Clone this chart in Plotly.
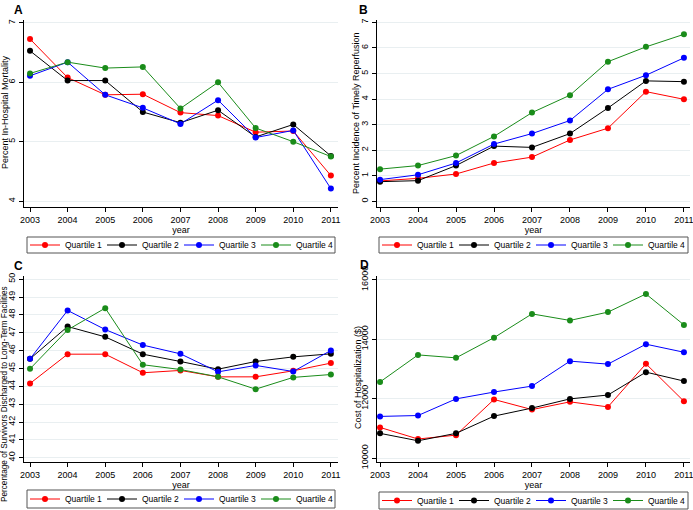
import plotly.graph_objects as go

years = [2003, 2004, 2005, 2006, 2007, 2008, 2009, 2010, 2011]
quartiles = ["Quartile 1", "Quartile 2", "Quartile 3", "Quartile 4"]
colors = ["#ff0000", "#000000", "#0000ff", "#1a8c1a"]

mortality_q1 = [6.73, 6.08, 5.79, 5.80, 5.49, 5.44, 5.16, 5.18, 4.43]
mortality_q2 = [6.53, 6.03, 6.03, 5.50, 5.32, 5.53, 5.08, 5.29, 4.76]
mortality_q3 = [6.11, 6.34, 5.79, 5.57, 5.30, 5.70, 5.07, 5.19, 4.21]
mortality_q4 = [6.15, 6.34, 6.24, 6.26, 5.56, 6.00, 5.23, 5.00, 4.75]

reperf_q1 = [0.80, 0.90, 1.07, 1.50, 1.73, 2.40, 2.86, 4.29, 3.99]
reperf_q2 = [0.77, 0.81, 1.40, 2.16, 2.11, 2.65, 3.65, 4.71, 4.68]
reperf_q3 = [0.85, 1.04, 1.50, 2.24, 2.65, 3.16, 4.38, 4.93, 5.61]
reperf_q4 = [1.26, 1.40, 1.79, 2.54, 3.47, 4.15, 5.46, 6.04, 6.53]

ltc_q1 = [44.16, 45.80, 45.80, 44.76, 44.89, 44.53, 44.53, 44.87, 45.30]
ltc_q2 = [45.54, 47.35, 46.77, 45.80, 45.39, 44.96, 45.39, 45.65, 45.82]
ltc_q3 = [45.54, 48.25, 47.18, 46.31, 45.82, 44.81, 45.17, 44.83, 46.01]
ltc_q4 = [44.98, 47.16, 48.38, 45.21, 44.94, 44.53, 43.84, 44.50, 44.66]

cost_q1 = [11030, 10640, 10770, 11970, 11630, 11890, 11720, 13170, 11910]
cost_q2 = [10830, 10580, 10830, 11410, 11680, 11990, 12120, 12890, 12590]
cost_q3 = [11400, 11430, 11990, 12220, 12420, 13260, 13160, 13830, 13560]
cost_q4 = [12560, 13470, 13370, 14050, 14850, 14630, 14910, 15520, 14480]

panels = [
    dict(letter="A", title="Percent In-Hospital Mortality",
         data=[mortality_q1, mortality_q2, mortality_q3, mortality_q4],
         yticks=[4, 5, 6, 7]),
    dict(letter="B", title="Percent Incidence of Timely Reperfusion",
         data=[reperf_q1, reperf_q2, reperf_q3, reperf_q4],
         yticks=[0, 1, 2, 3, 4, 5, 6, 7]),
    dict(letter="C", title="Percentage of Survivors Discharged to Long-Term Facilities",
         data=[ltc_q1, ltc_q2, ltc_q3, ltc_q4],
         yticks=list(range(40, 51))),
    dict(letter="D", title="Cost of Hospitalization ($)",
         data=[cost_q1, cost_q2, cost_q3, cost_q4],
         yticks=[10000, 12000, 14000, 16000]),
]

W, H = 693, 510
# pixel layout of plot areas: (left, right, top, bottom)
boxes = [(24, 338, 20, 207), (377, 690, 20, 207), (24, 338, 276, 462), (377, 690, 276, 462)]
xranges = [[2002.84, 2011.19], [2002.92, 2011.16], [2002.84, 2011.19], [2002.92, 2011.16]]
yranges = [[3.9, 7.05], [-0.22, 7.09], [39.76, 50.18], [9866, 16125]]
# legend frames (left, right, top, bottom) and item start x / center y
legend_boxes = [(27, 335, 237, 253), (379, 688, 237, 253), (27, 335, 490, 508), (379, 688, 492, 509)]
legend_items = [(25, 245), (377, 245), (25, 499), (377, 500.5)]
letter_pos = [(18, 10), (363, 10), (18, 266), (364, 265)]
ytitle_pos = [(5, 112), (356, 113), (4, 394), (358, 378)]
ytitle_size = [9, 9, 8.2, 9]

FONT = "Liberation Sans, Arial, sans-serif"
GRID = "#e9eff1"
FS = 9

fig = go.Figure()
layout = dict(width=W, height=H, margin=dict(l=0, r=0, t=0, b=0, autoexpand=False),
              paper_bgcolor="white", plot_bgcolor="white",
              font=dict(family=FONT, size=FS, color="black"),
              annotations=[], shapes=[])

for i, p in enumerate(panels):
    n = "" if i == 0 else str(i + 1)
    l, r, t, b = boxes[i]
    for q in range(4):
        fig.add_trace(go.Scatter(
            x=years, y=p["data"][q], name=quartiles[q], mode="lines+markers",
            line=dict(color=colors[q], width=1),
            marker=dict(color=colors[q], size=6),
            xaxis="x" + n, yaxis="y" + n, legend="legend" + n,
        ))
    layout["xaxis" + n] = dict(
        domain=[l / W, r / W], range=xranges[i], anchor="y" + n,
        tickvals=years, ticks="outside", ticklen=4, tickcolor="black",
        showline=True, linecolor="black", linewidth=1, showgrid=False,
        zeroline=False, ticklabeloverflow="allow",
        title=dict(text="year", standoff=0, font=dict(size=FS)),
        tickfont=dict(size=FS))
    layout["yaxis" + n] = dict(
        domain=[1 - b / H, 1 - t / H], range=yranges[i], anchor="x" + n,
        tickvals=p["yticks"], tickformat="d", ticks="outside", ticklen=4,
        tickcolor="black", tickangle=-90, showline=True, linecolor="black",
        linewidth=1, showgrid=True, gridcolor=GRID, gridwidth=1,
        zeroline=False, tickfont=dict(size=FS))
    bl, br, bt, bb = legend_boxes[i]
    layout["shapes"].append(dict(
        type="rect", xref="paper", yref="paper", x0=bl / W, x1=br / W,
        y0=1 - bb / H, y1=1 - bt / H, line=dict(color="#555555", width=1),
        fillcolor="white", layer="below"))
    lx, ly = legend_items[i]
    layout["legend" + n] = dict(
        x=lx / W, y=1 - ly / H, xanchor="left", yanchor="middle",
        orientation="h", borderwidth=0, bgcolor="rgba(0,0,0,0)",
        font=dict(size=8.5), entrywidth=32, itemwidth=30, tracegroupgap=0)
    px_, py_ = letter_pos[i]
    layout["annotations"].append(dict(
        text="<b>" + p["letter"] + "</b>", x=px_ / W, y=1 - py_ / H,
        xref="paper", yref="paper", showarrow=False,
        font=dict(size=12), xanchor="center", yanchor="middle"))
    tx, ty = ytitle_pos[i]
    layout["annotations"].append(dict(
        text=p["title"], x=tx / W, y=1 - ty / H,
        xref="paper", yref="paper", showarrow=False, textangle=-90,
        font=dict(size=ytitle_size[i]), xanchor="center", yanchor="middle"))

fig.update_layout(**layout)
fig.write_html("out.html", post_script="document.body.style.margin='0';",
               config={"displayModeBar": False})
